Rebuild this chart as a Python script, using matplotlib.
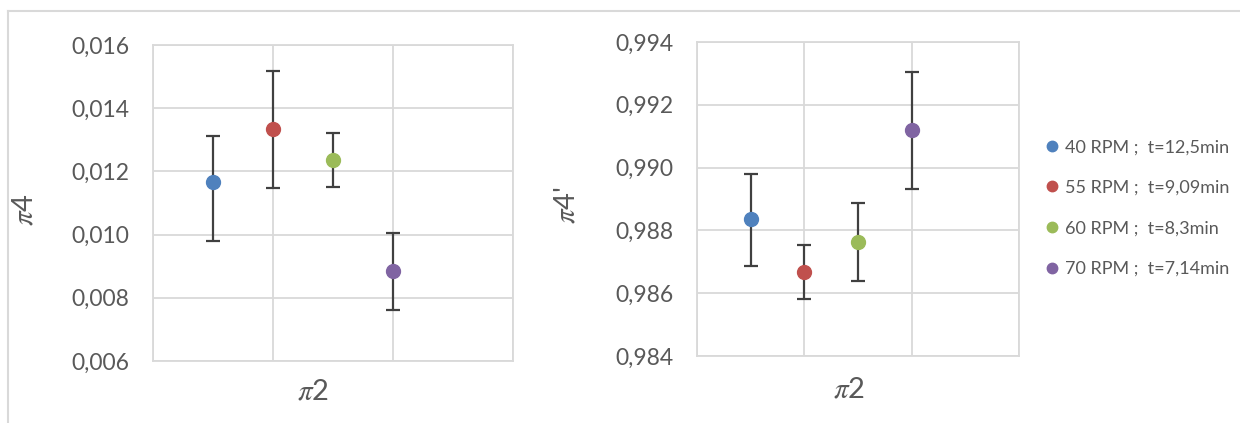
import matplotlib
matplotlib.use("Agg")
import matplotlib.pyplot as plt
from matplotlib.lines import Line2D
from matplotlib.ticker import FuncFormatter, MultipleLocator

plt.rcParams["font.family"] = ["Lato", "DejaVu Sans"]
plt.rcParams["mathtext.fontset"] = "stix"

# data
labels = ["40 RPM ;  t=12,5min", "55 RPM ;  t=9,09min",
          "60 RPM ;  t=8,3min", "70 RPM ;  t=7,14min"]
colors = ["#4F81BD", "#C0504D", "#9BBB59", "#8064A2"]
x_pos = [0.5, 1.0, 1.5, 2.0]

pi4 = [0.01167, 0.01335, 0.01236, 0.00885]
pi4_hi = [0.01311, 0.01517, 0.01321, 0.01005]
pi4_lo = [0.00979, 0.01146, 0.01150, 0.00760]

pi4p = [0.98836, 0.98666, 0.98763, 0.99120]
pi4p_hi = [0.98981, 0.98752, 0.98888, 0.99304]
pi4p_lo = [0.98687, 0.98583, 0.98640, 0.98931]

GRID = "#D9D9D9"
TXT = "#595959"

fig = plt.figure(figsize=(12.4, 4.23), dpi=100)
W, H = 1240, 423

# outer chart frame
fig.add_artist(Line2D([8 / W, 8 / W], [0, 1 - 11 / H], color=GRID, lw=1.5))
fig.add_artist(Line2D([8 / W, 1], [1 - 11 / H, 1 - 11 / H], color=GRID, lw=1.5))


def panel(rect, vals, hi, lo, ylim, ylabel, ylab_xy, xlab_xy):
    ax = fig.add_axes(rect)
    for x, v, h, l, c in zip(x_pos, vals, hi, lo, colors):
        ax.errorbar(x, v, yerr=[[v - l], [h - v]], fmt="o", color=c, ms=10,
                    ecolor="#404040", elinewidth=1.6, capsize=5, capthick=1.6,
                    zorder=3)
    ax.set_xlim(0, 3)
    ax.set_ylim(*ylim)
    ax.xaxis.set_major_locator(MultipleLocator(1))
    ax.yaxis.set_major_locator(MultipleLocator(0.002))
    ax.yaxis.set_major_formatter(FuncFormatter(lambda v, p: f"{v:.3f}".replace(".", ",")))
    ax.tick_params(length=0, labelsize=16.5, labelcolor=TXT, pad=17)
    ax.tick_params(axis="x", labelbottom=False)
    ax.grid(True, color=GRID, lw=1.3)
    ax.set_axisbelow(True)
    for s in ax.spines.values():
        s.set_color(GRID)
        s.set_linewidth(1.3)
    ax.set_ylabel(ylabel, fontsize=21, color=TXT)
    ax.yaxis.set_label_coords(*ylab_xy)
    ax.set_xlabel(r"$\pi$2", fontsize=21, color=TXT, va="center")
    ax.xaxis.set_label_coords(*xlab_xy)
    return ax


panel([153 / W, 1 - 361 / H, 360 / W, 316 / H], pi4, pi4_hi, pi4_lo,
      (0.006, 0.016), r"$\pi$4", (-0.32, 0.478), (0.444, -0.095))
panel([697 / W, 1 - 356 / H, 322 / W, 314 / H], pi4p, pi4p_hi, pi4p_lo,
      (0.984, 0.994), r"$\pi$4'", (-0.365, 0.48), (0.472, -0.108))

handles = [Line2D([], [], marker="o", ls="none", color=c, ms=7.5) for c in colors]
fig.legend(handles, labels, loc="upper left", bbox_to_anchor=(1038 / W, 1 - 132 / H),
           frameon=False, fontsize=13, labelcolor=TXT, handlelength=0.8,
           handletextpad=0.3, labelspacing=1.36, borderaxespad=0)

fig.savefig("out.png", dpi=100)
